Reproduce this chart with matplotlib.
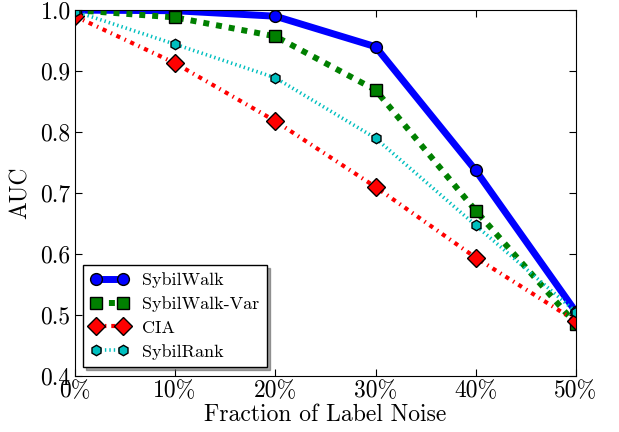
import matplotlib
matplotlib.use("Agg")
import matplotlib.pyplot as plt

plt.rcParams['font.family'] = ['cmr10', 'DejaVu Serif']
plt.rcParams['mathtext.fontset'] = 'cm'
plt.rcParams['axes.formatter.use_mathtext'] = True
plt.rcParams['lines.scale_dashes'] = False

noise = [0, 10, 20, 30, 40, 50]
tick_labels = ["0%", "10%", "20%", "30%", "40%", "50%"]
sybilwalk = [1.0, 0.999, 0.990, 0.940, 0.737, 0.505]
sybilwalk_var = [1.0, 0.988, 0.957, 0.869, 0.671, 0.485]
cia = [0.990, 0.913, 0.818, 0.710, 0.594, 0.490]
sybilrank = [0.998, 0.944, 0.889, 0.790, 0.647, 0.505]

fig = plt.figure(figsize=(6.19, 4.32), dpi=100)
ax = fig.add_axes([0.121, 0.1296, 0.8095, 0.847])

ax.plot(noise, sybilwalk, color="blue", linestyle="-", linewidth=5,
        marker="o", markersize=8.5, markeredgecolor="black", label="SybilWalk")
ax.plot(noise, sybilwalk_var, color="green", linewidth=4.3, dashes=(4.3, 5.0),
        marker="s", markersize=8.5, markeredgecolor="black", label="SybilWalk-Var")
ax.plot(noise, cia, color="red", linewidth=3, dashes=(3, 3.5, 1, 3.5),
        marker="D", markersize=9, markeredgecolor="black", label="CIA")
ax.plot(noise, sybilrank, color="c", linewidth=2.6, dashes=(1, 2.2),
        marker="h", markersize=7.5, markeredgecolor="black", label="SybilRank")

ax.set_xlim(0, 50)
ax.set_ylim(0.4, 1.0)
ax.set_xticks(noise)
ax.set_xticklabels(tick_labels)
ax.set_yticks([0.4, 0.5, 0.6, 0.7, 0.8, 0.9, 1.0])
ax.set_yticklabels(["0.4", "0.5", "0.6", "0.7", "0.8", "0.9", "1.0"])
ax.tick_params(direction="in", top=True, right=True, labelsize=17, length=5, pad=3)
ax.set_xlabel("Fraction of Label Noise", fontsize=17, labelpad=1)
ax.set_ylabel("AUC", fontsize=17, labelpad=6)

ax.legend(loc="lower left", bbox_to_anchor=(0.016, 0.025), borderaxespad=0,
          fontsize=13, fancybox=False, shadow=True, edgecolor="black",
          framealpha=1, numpoints=2, handlelength=2.1, handletextpad=0.8,
          labelspacing=0.45)

fig.savefig("out.png", dpi=100)
